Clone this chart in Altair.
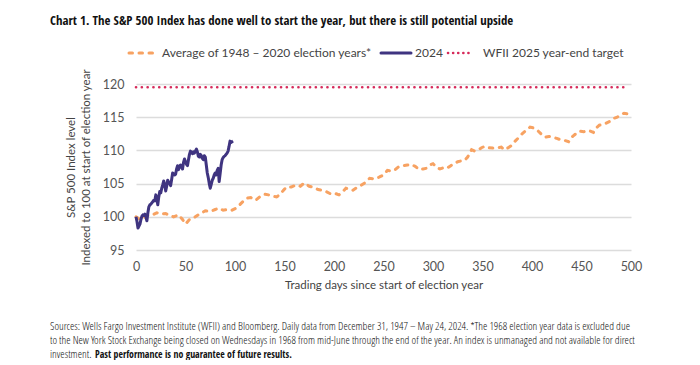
import altair as alt
import pandas as pd

# ---------------- data ----------------
avg_days = [0, 4, 8, 12, 17, 21, 26, 30, 34, 38, 43, 47, 50, 54, 58, 64, 70, 75, 80, 84,
            88, 92, 97, 101, 104, 108, 112, 116, 121, 125, 130, 134, 138, 142, 145, 149, 152,
            157, 162, 166, 170, 175, 180, 184, 188, 192, 196, 200, 205, 209, 212, 216, 219,
            223, 226, 231, 236, 241, 246, 250, 254, 258, 261, 265, 270, 274, 278, 282, 286,
            290, 293, 297, 300, 304, 307, 311, 314, 318, 321, 325, 328, 332, 335, 339, 342,
            346, 349, 352, 356, 361, 365, 369, 372, 376, 379, 383, 387, 390, 394, 398, 401,
            405, 409, 413, 417, 421, 425, 429, 433, 437, 441, 445, 448, 452, 455, 459, 462,
            465, 468, 472, 475, 479, 482, 486, 490, 493, 497, 500]
avg_vals = [100.0, 99.6, 99.9, 100.2, 100.3, 100.6, 100.4, 100.5, 100.2, 100.0, 100.3, 99.6,
            98.9, 99.6, 99.8, 100.4, 100.9, 100.8, 101.1, 101.3, 101.0, 101.1, 101.0, 101.3,
            101.7, 102.3, 102.8, 102.9, 102.5, 103.0, 103.4, 103.3, 103.1, 103.0, 103.3, 104.0,
            104.5, 104.5, 104.8, 104.6, 105.1, 104.6, 104.4, 104.1, 104.0, 103.8, 103.5, 103.6,
            103.3, 103.8, 104.3, 104.1, 104.0, 104.4, 104.6, 105.1, 105.8, 105.7, 106.0, 106.3,
            107.0, 106.9, 107.0, 107.5, 107.7, 107.8, 107.9, 107.6, 107.1, 107.2, 107.3, 107.8,
            108.0, 107.4, 107.2, 107.4, 107.3, 107.7, 108.0, 108.3, 108.4, 108.5, 109.0, 110.1,
            109.9, 110.1, 110.4, 110.6, 110.4, 110.35, 110.4, 110.5, 110.1, 110.4, 110.7, 111.4,
            112.0, 112.5, 113.0, 113.5, 113.4, 113.1, 112.5, 112.0, 112.1, 112.0, 111.8, 111.6,
            111.5, 111.3, 112.1, 112.6, 112.9, 112.8, 113.0, 112.9, 112.7, 113.4, 113.8, 113.9,
            114.1, 114.4, 114.8, 115.0, 115.4, 115.6, 115.5, 115.8]

y2024_days = list(range(0, 99))
y2024_vals = [100.0, 99.3, 98.3, 98.6, 98.9, 99.6, 100.1, 100.3, 100.2, 100.4, 100.0, 99.4,
              100.6, 101.5, 101.8, 101.9, 102.1, 102.3, 102.5, 102.4, 103.3, 102.8, 101.8,
              103.0, 103.8, 103.6, 104.3, 104.8, 105.4, 104.8, 103.9, 104.6, 105.5, 105.2,
              105.0, 104.7, 105.6, 106.6, 106.5, 106.3, 106.4, 107.2, 107.7, 107.1, 107.6,
              107.8, 107.5, 107.2, 108.2, 108.7, 108.3, 107.9, 107.7, 108.6, 109.4, 109.9,
              109.7, 109.5, 109.8, 109.6, 109.9, 110.2, 109.8, 109.1, 109.0, 109.4, 109.2,
              108.8, 108.6, 109.2, 109.0, 107.8, 106.6, 105.9, 105.0, 104.3, 104.9, 105.5,
              105.8, 106.3, 106.6, 106.3, 107.0, 107.3, 105.3, 106.5, 107.8, 108.6, 108.9,
              109.1, 109.2, 109.4, 109.6, 109.9, 110.6, 111.4, 111.2, 111.3, 111.4]

target_days = [0, 496]
target_vals = [119.5, 119.5]

y_ticks = [95, 100, 105, 110, 115, 120]
x_ticks = [0, 50, 100, 150, 200, 250, 300, 350, 400, 450, 500]

series_names = ["Average of 1948 \u2013 2020 election years*", "2024", "WFII 2025 year-end target"]

title_text = "Chart 1. The S&P 500 Index has done well to start the year, but there is still potential upside"
y_title = ["S&P 500 Index level", "Indexed to 100 at start of election year"]
x_title = "Trading days since start of election year"
foot1 = ("Sources: Wells Fargo Investment Institute (WFII) and Bloomberg. Daily data from December 31, 1947 \u2013 "
         "May 24, 2024. *The 1968 election year data is excluded due")
foot2 = ("to the New York Stock Exchange being closed on Wednesdays in 1968 from mid-June through the end of the "
         "year. An index is unmanaged and not available for direct")
foot3a = "investment."
foot3b = "Past performance is no guarantee of future results."

# ---------------- style ----------------
FONT = "Lato, Liberation Sans, sans-serif"
COND_LIGHT = "Open Sans Condensed Light, DejaVu Sans Condensed, sans-serif"
COND_BOLD = "Open Sans Condensed, DejaVu Sans Condensed, sans-serif"
ORANGE = "#F7A262"
NAVY = "#3F3480"
RED = "#D62A5A"
W, H = 495, 166

avg_df = pd.DataFrame({"day": avg_days, "val": avg_vals})
y24_df = pd.DataFrame({"day": y2024_days, "val": y2024_vals})
tgt_df = pd.DataFrame({"day": target_days, "val": target_vals})

xs = alt.Scale(domain=[0, 500], nice=False)
ys = alt.Scale(domain=[95, 120], nice=False, zero=False)

x_enc = alt.X("day:Q", scale=xs, title=x_title,
              axis=alt.Axis(values=x_ticks, grid=False, domain=False, ticks=False, labelFlush=False,
                            labelPadding=10, titlePadding=7, labelFontSize=12.5,
                            titleFontSize=11.5))
y_enc = alt.Y("val:Q", scale=ys, title=y_title,
              axis=alt.Axis(values=y_ticks, grid=True, domain=False, ticks=False, labelFlush=False,
                            labelPadding=12, titlePadding=11, labelFontSize=12.5,
                            titleFontSize=11.5, titleLineHeight=15))

avg_line = alt.Chart(avg_df).mark_line(color=ORANGE, strokeWidth=3, strokeDash=[3.5, 6.5],
                                       strokeCap="round").encode(x=x_enc, y=y_enc)
line24 = alt.Chart(y24_df).mark_line(color=NAVY, strokeWidth=3, strokeJoin="round").encode(x=x_enc, y=y_enc)
tgt_line = alt.Chart(tgt_df).mark_line(color=RED, strokeWidth=2.6, strokeDash=[0.1, 5.7],
                                       strokeCap="round").encode(x=x_enc, y=y_enc)


def text_layer(s, x, y, size=12, font=FONT, color="#333"):
    return alt.Chart(pd.DataFrame({"t": [s]})).mark_text(
        align="left", baseline="middle", font=font, fontSize=size, color=color
    ).encode(text="t:N", x=alt.value(x), y=alt.value(y))


def legend_sym(x1, x2, y, color, dash, width):
    return alt.Chart(pd.DataFrame({"t": [0]})).mark_rule(
        color=color, strokeWidth=width, strokeDash=dash, strokeCap="round"
    ).encode(x=alt.value(x1), x2=alt.value(x2), y=alt.value(y))


LY = -31
legend = [
    legend_sym(-7, 20, LY, ORANGE, [3.5, 6.5], 3),
    text_layer(series_names[0], 26, LY, 12, color="#444"),
    legend_sym(245, 275, LY, NAVY, [1, 0], 3),
    text_layer(series_names[1], 279, LY, 12, color="#444"),
    legend_sym(312, 333, LY, RED, [0.1, 5], 2.6),
    text_layer(series_names[2], 347, LY, 12, color="#444"),
]

texts = [
    text_layer(title_text, -86, -63, 12.8, COND_BOLD, "#111"),
    text_layer(foot1, -86, 243, 11.1, COND_LIGHT, "#111"),
    text_layer(foot2, -86, 257, 11.1, COND_LIGHT, "#111"),
    text_layer(foot3a, -86, 271, 11.1, COND_LIGHT, "#111"),
    text_layer(foot3b, -41, 271, 9.8, COND_BOLD, "#111"),
]

chart = alt.layer(avg_line, line24, tgt_line, *legend, *texts).properties(
    width=W, height=H,
    padding={"left": 128, "top": 76, "right": 50, "bottom": 110},
    autosize=alt.AutoSizeParams(type="none"),
).configure_view(stroke=None).configure_axis(
    labelFont=FONT, titleFont=FONT, labelColor="#555", titleColor="#444",
    titleFontWeight="normal", gridColor="#DCDCDC", gridWidth=1.5
)

chart.save("out.html", embed_options={"renderer": "svg", "actions": False})
